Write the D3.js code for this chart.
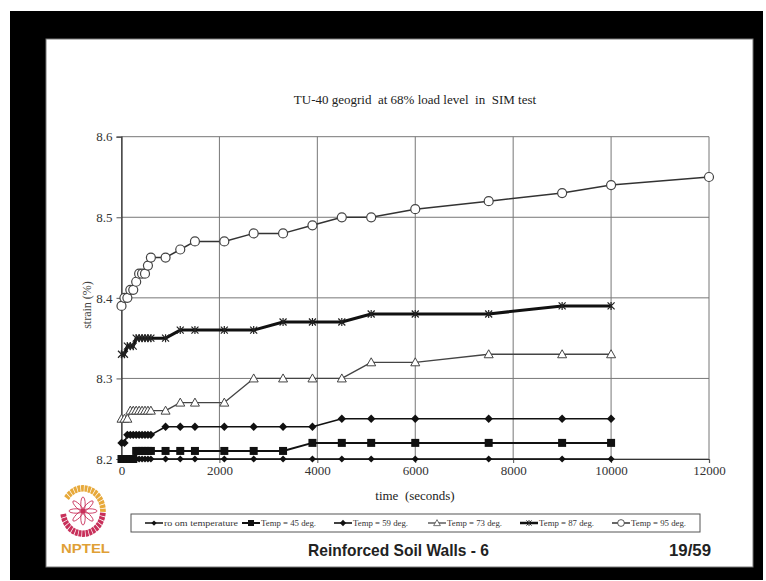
<!DOCTYPE html>
<html><head><meta charset="utf-8">
<script src="https://cdn.jsdelivr.net/npm/d3@7/dist/d3.min.js"></script>
<style>html,body{margin:0;padding:0;background:#fff;}svg{display:block;}</style>
</head><body>
<script>
// ---- data ----
const times = [0, 60, 120, 180, 240, 300, 360, 420, 480, 540, 600, 900, 1200, 1500, 2100, 2700, 3300, 3900, 4500, 5100, 6000, 7500, 9000, 10000];
const timesLong = times.concat([12000]);
const roomTemp = [8.20,8.20,8.20,8.20,8.20,8.20,8.20,8.20,8.20,8.20,8.20,8.20,8.20,8.20,8.20,8.20,8.20,8.20,8.20,8.20,8.20,8.20,8.20,8.20];
const temp45 = [8.20,8.20,8.20,8.20,8.20,8.21,8.21,8.21,8.21,8.21,8.21,8.21,8.21,8.21,8.21,8.21,8.21,8.22,8.22,8.22,8.22,8.22,8.22,8.22];
const temp59 = [8.22,8.22,8.23,8.23,8.23,8.23,8.23,8.23,8.23,8.23,8.23,8.24,8.24,8.24,8.24,8.24,8.24,8.24,8.25,8.25,8.25,8.25,8.25,8.25];
const temp73 = [8.25,8.25,8.25,8.26,8.26,8.26,8.26,8.26,8.26,8.26,8.26,8.26,8.27,8.27,8.27,8.30,8.30,8.30,8.30,8.32,8.32,8.33,8.33,8.33];
const temp87 = [8.33,8.33,8.34,8.34,8.34,8.35,8.35,8.35,8.35,8.35,8.35,8.35,8.36,8.36,8.36,8.36,8.37,8.37,8.37,8.38,8.38,8.38,8.39,8.39];
const temp95 = [8.39,8.40,8.40,8.41,8.41,8.42,8.43,8.43,8.43,8.44,8.45,8.45,8.46,8.47,8.47,8.48,8.48,8.49,8.50,8.50,8.51,8.52,8.53,8.54,8.55];
const seriesNames = ["ro om temperature","Temp = 45 deg.","Temp = 59 deg.","Temp = 73 deg.","Temp = 87 deg.","Temp = 95 deg."];
const xTicks = [0,2000,4000,6000,8000,10000,12000];
const yTicks = [8.2,8.3,8.4,8.5,8.6];
const titleText = "TU-40 geogrid  at 68% load level  in  SIM test";
const xTitle = "time  (seconds)";
const yTitle = "strain (%)";
const footerText = "Reinforced Soil Walls - 6";
const pageText = "19/59";

const W = 766, H = 581;
const svg = d3.select("body").append("svg").attr("width", W).attr("height", H);

// frame
svg.append("rect").attr("x",0).attr("y",0).attr("width",W).attr("height",H).attr("fill","#fff");
svg.append("rect").attr("x",10).attr("y",11).attr("width",753).attr("height",569).attr("fill","#000");
svg.append("rect").attr("x",46).attr("y",39).attr("width",707).attr("height",528).attr("fill","#fff").attr("stroke","#777").attr("stroke-width",1);

const serif = "'Liberation Serif','Times New Roman',serif";
const sans = "'Liberation Sans',Arial,sans-serif";

const x = d3.scaleLinear().domain([0,12000]).range([121.5,709]);
const y = d3.scaleLinear().domain([8.2,8.6]).range([459,136.7]);

// gridlines
const g = svg.append("g");
g.selectAll(".hg").data(yTicks).enter().append("line")
  .attr("x1",x(0)).attr("x2",x(12000)).attr("y1",d=>y(d)).attr("y2",d=>y(d))
  .attr("stroke","#777").attr("stroke-width",1);
g.selectAll(".vg").data(xTicks).enter().append("line")
  .attr("x1",d=>x(d)).attr("x2",d=>x(d)).attr("y1",y(8.6)).attr("y2",y(8.2))
  .attr("stroke","#777").attr("stroke-width",1);

// axes
const xAxis = d3.axisBottom(x).tickValues(xTicks).tickSize(4).tickPadding(3).tickFormat(d3.format("d"));
const yAxis = d3.axisLeft(y).tickValues(yTicks).tickSize(5).tickPadding(4).tickFormat(d3.format(".1f"));
const gx = svg.append("g").attr("transform",`translate(0,${y(8.2)})`).call(xAxis);
const gy = svg.append("g").attr("transform",`translate(${x(0)},0)`).call(yAxis);
[gx,gy].forEach(a=>{
  a.select(".domain").attr("stroke","#333").attr("stroke-width",1.2);
  a.selectAll(".tick line").attr("stroke","#555");
  a.selectAll("text").attr("font-family",serif).attr("font-size",13).attr("fill","#333");
});

// titles
svg.append("text").attr("x",415).attr("y",104).attr("text-anchor","middle")
  .attr("font-family",serif).attr("font-size",13).attr("fill","#222").attr("xml:space","preserve").style("white-space","pre").text(titleText);
svg.append("text").attr("x",415).attr("y",500).attr("text-anchor","middle")
  .attr("font-family",serif).attr("font-size",13).attr("fill","#222").style("white-space","pre").text(xTitle);
svg.append("text").attr("transform","translate(91,305) rotate(-90)").attr("text-anchor","middle")
  .attr("font-family",serif).attr("font-size",12).attr("fill","#444").text(yTitle);

// series definitions
const series = [
  {name:seriesNames[0], t:times, v:roomTemp, stroke:"#111", sw:1.5, marker:"diamondS"},
  {name:seriesNames[1], t:times, v:temp45, stroke:"#111", sw:2, marker:"square"},
  {name:seriesNames[2], t:times, v:temp59, stroke:"#111", sw:1.6, marker:"diamond"},
  {name:seriesNames[3], t:times, v:temp73, stroke:"#444", sw:1.3, marker:"triangle"},
  {name:seriesNames[4], t:times, v:temp87, stroke:"#111", sw:3, marker:"star"},
  {name:seriesNames[5], t:timesLong, v:temp95, stroke:"#333", sw:1.5, marker:"circle"}
];

function drawMarker(sel, type, cx, cy){
  if(type==="diamondS"){
    sel.append("path").attr("d",`M${cx},${cy-3.5}L${cx+3.5},${cy}L${cx},${cy+3.5}L${cx-3.5},${cy}Z`).attr("fill","#111");
  } else if(type==="diamond"){
    sel.append("path").attr("d",`M${cx},${cy-4.2}L${cx+4.2},${cy}L${cx},${cy+4.2}L${cx-4.2},${cy}Z`).attr("fill","#111");
  } else if(type==="square"){
    sel.append("rect").attr("x",cx-4).attr("y",cy-4).attr("width",8).attr("height",8).attr("fill","#111");
  } else if(type==="triangle"){
    sel.append("path").attr("d",`M${cx},${cy-4.5}L${cx+4.5},${cy+3.5}L${cx-4.5},${cy+3.5}Z`).attr("fill","#fff").attr("stroke","#444").attr("stroke-width",1);
  } else if(type==="star"){
    sel.append("path").attr("d",`M${cx-3.5},${cy-3.5}L${cx+3.5},${cy+3.5}M${cx-3.5},${cy+3.5}L${cx+3.5},${cy-3.5}M${cx},${cy-4}L${cx},${cy+4}`).attr("stroke","#222").attr("stroke-width",1.2);
  } else if(type==="circle"){
    sel.append("circle").attr("cx",cx).attr("cy",cy).attr("r",4.5).attr("fill","#fff").attr("stroke","#444").attr("stroke-width",1.2);
  }
}

const line = d3.line().x(d=>x(d[0])).y(d=>y(d[1]));
const plot = svg.append("g");
series.forEach(s=>{
  const pts = s.t.map((t,i)=>[t,s.v[i]]);
  plot.append("path").datum(pts).attr("d",line).attr("fill","none").attr("stroke",s.stroke).attr("stroke-width",s.sw).attr("stroke-linejoin","round");
});
series.forEach(s=>{
  const mg = plot.append("g");
  s.t.forEach((t,i)=>drawMarker(mg,s.marker,x(t),y(s.v[i])));
});

// legend
const lg = svg.append("g");
lg.append("rect").attr("x",131).attr("y",514).attr("width",569).attr("height",18).attr("fill","#fff").attr("stroke","#555").attr("stroke-width",1);
const legX = [145,242,334,428,520,612];
const legW = [74,55,55,55,55,55];
series.forEach((s,i)=>{
  const lx = legX[i], ly = 523;
  lg.append("line").attr("x1",lx).attr("x2",lx+18).attr("y1",ly).attr("y2",ly).attr("stroke",s.stroke).attr("stroke-width",Math.min(s.sw,2.5));
  const mg = lg.append("g").attr("transform",`translate(${lx+9},${ly}) scale(0.75) translate(${-(lx+9)},${-ly})`);
  drawMarker(mg,s.marker,lx+9,ly);
  lg.append("text").attr("x",lx+19).attr("y",ly+2.5).attr("font-family",serif).attr("font-size",7.5).attr("fill","#333")
    .attr("textLength",legW[i]).attr("lengthAdjust","spacingAndGlyphs").text(s.name);
});

// footer
svg.append("text").attr("x",308).attr("y",556).attr("font-family",sans).attr("font-weight","bold").attr("font-size",17).attr("fill","#222")
  .attr("textLength",181).attr("lengthAdjust","spacingAndGlyphs").text(footerText);
svg.append("text").attr("x",669).attr("y",556).attr("font-family",sans).attr("font-weight","bold").attr("font-size",17).attr("fill","#222")
  .attr("textLength",42).attr("lengthAdjust","spacingAndGlyphs").text(pageText);

// NPTEL logo
const logo = svg.append("g");
const cx0 = 83, cy0 = 511;
const nSeg = 36;
for(let i=0;i<nSeg;i++){
  const a0 = (i/nSeg)*2*Math.PI - Math.PI/2 + 0.6;
  if(i>31) continue;
  const a1 = a0 + (2*Math.PI/nSeg)*0.8;
  const arc = d3.arc().innerRadius(18).outerRadius(24).startAngle(a0).endAngle(a1);
  const col = i<15 ? "#e7a93a" : "#c8305a";
  logo.append("path").attr("d",arc()).attr("transform",`translate(${cx0},${cy0}) scale(0.95,1.08)`).attr("fill",col);
}
for(let k=0;k<8;k++){
  const a = k*Math.PI/4;
  logo.append("ellipse").attr("cx",0).attr("cy",-7).attr("rx",2.2).attr("ry",7)
    .attr("transform",`translate(${cx0},${cy0}) rotate(${a*180/Math.PI})`).attr("fill","none").attr("stroke","#c8305a").attr("stroke-width",0.9);
}
logo.append("circle").attr("cx",cx0).attr("cy",cy0).attr("r",2.5).attr("fill","#c8305a");
svg.append("text").attr("x",61).attr("y",553).attr("font-family",sans).attr("font-weight","bold").attr("font-size",13).attr("fill","#e0a035")
  .attr("textLength",49).attr("lengthAdjust","spacingAndGlyphs").text("NPTEL");
</script>
</body></html>
